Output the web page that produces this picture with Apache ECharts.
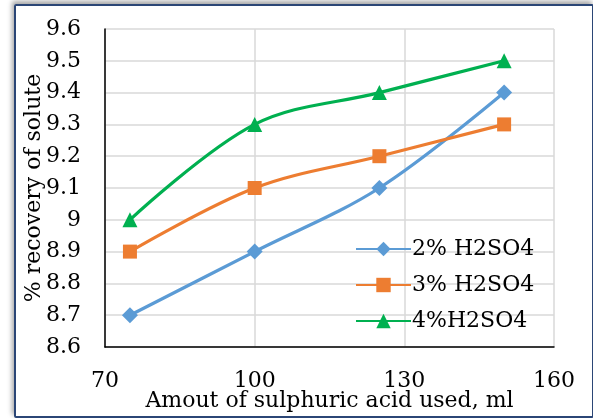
<!DOCTYPE html>
<html><head><meta charset="utf-8">
<script src="https://cdn.jsdelivr.net/npm/echarts@6/dist/echarts.min.js"></script>
<style>
html,body{margin:0;padding:0;background:#fff;}
#c{position:absolute;left:0;top:0;width:593px;height:418px;}
#frame{position:absolute;left:14px;top:4px;width:576px;height:410px;border:2px solid #2B4676;border-radius:2px;box-shadow:-2px -3px 5px rgba(0,0,0,0.35);pointer-events:none;}
</style></head>
<body>
<div id="c"></div>
<div id="frame"></div>
<script>
const xValues = [75, 100, 125, 150];
const s2 = [8.7, 8.9, 9.1, 9.4];
const s3 = [8.9, 9.1, 9.2, 9.3];
const s4 = [9.0, 9.3, 9.4, 9.5];
const seriesNames = ['2% H2SO4', '3% H2SO4', '4%H2SO4'];
const xTitle = 'Amout of sulphuric acid used, ml';
const yTitle = '% recovery of solute';
const font = 'DejaVu Serif';
const chart = echarts.init(document.getElementById('c'));
const pair = a => a.map((v, i) => [xValues[i], v]);
function mk(name, data, color, symbol, size) {
  return {name, type: 'line', data: pair(data), smooth: 0.35, symbol, symbolSize: size,
    lineStyle: {color, width: 3.2}, itemStyle: {color}, z: 3};
}
chart.setOption({
  animation: false,
  grid: {left: 105, top: 29, right: 39, bottom: 71, outerBoundsMode: 'none', containLabel: false},
  xAxis: {type: 'value', min: 70, max: 160, interval: 30,
    name: xTitle, nameLocation: 'middle', nameGap: 43, nameMoveOverlap: false,
    nameTextStyle: {fontFamily: font, fontSize: 22, color: '#000'},
    axisLine: {show: true, lineStyle: {color: '#000', width: 1.5}}, axisTick: {show: false},
    axisLabel: {fontFamily: font, fontSize: 22, color: '#000', margin: 23},
    splitLine: {show: true, lineStyle: {color: '#d9d9d9', width: 1.5}}},
  yAxis: {type: 'value', min: 8.6, max: 9.6, interval: 0.1,
    name: yTitle, nameLocation: 'middle', nameGap: 60, nameRotate: 90, nameMoveOverlap: false,
    nameTextStyle: {fontFamily: font, fontSize: 22, color: '#000'},
    axisLine: {show: true, lineStyle: {color: '#000', width: 1.5}}, axisTick: {show: false},
    axisLabel: {fontFamily: font, fontSize: 22, color: '#000', margin: 24,
      formatter: v => String(Math.round(v * 10) / 10)},
    splitLine: {show: true, lineStyle: {color: '#d9d9d9', width: 1.5}}},
  legend: {orient: 'vertical', left: 350, top: 232, itemWidth: 55, itemHeight: 18, itemGap: 12,
    textStyle: {fontFamily: font, fontSize: 22, color: '#000', lineHeight: 24, padding: [0,0,0,-4]},
    data: seriesNames},
  series: [
    mk(seriesNames[0], s2, '#5B9BD5', 'diamond', 16),
    mk(seriesNames[1], s3, '#ED7D31', 'rect', 14),
    mk(seriesNames[2], s4, '#00B050', 'triangle', 15)
  ]
});
</script>
</body></html>
